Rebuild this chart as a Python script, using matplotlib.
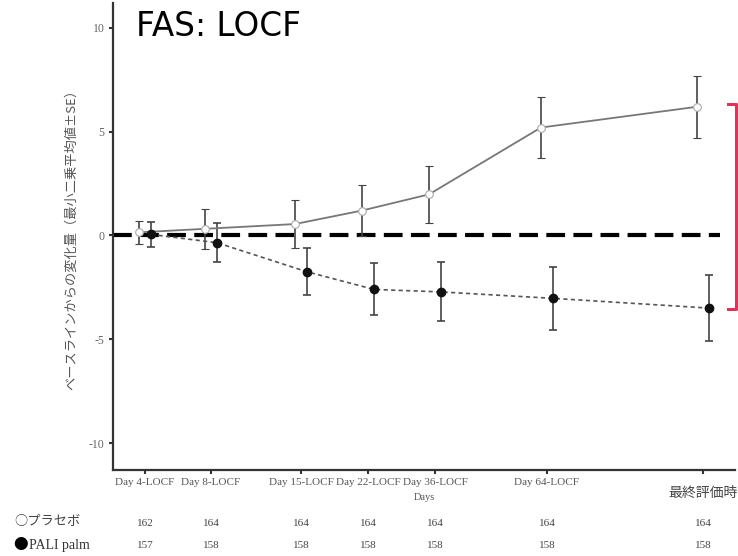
import matplotlib
matplotlib.use('Agg')
import matplotlib.pyplot as plt
from matplotlib.transforms import blended_transform_factory
from matplotlib.lines import Line2D

# data
labels = ['Day 4-LOCF', 'Day 8-LOCF', 'Day 15-LOCF', 'Day 22-LOCF', 'Day 36-LOCF', 'Day 64-LOCF', '最終評価時']
placebo_mean = [0.15, 0.32, 0.55, 1.2, 1.98, 5.2, 6.2]
placebo_se = [0.55, 0.95, 1.15, 1.22, 1.39, 1.45, 1.5]
pali_mean = [0.05, -0.35, -1.75, -2.6, -2.72, -3.03, -3.5]
pali_se = [0.62, 0.95, 1.13, 1.25, 1.42, 1.52, 1.6]
n_placebo = [162, 164, 164, 164, 164, 164, 164]
n_pali = [157, 158, 158, 158, 158, 158, 158]

# horizontal positions of the visits (uneven spacing, as in the original)
xpos = [145, 211, 301, 368, 435, 547, 703]
off = 6

serif = ['Liberation Serif', 'DejaVu Serif']
jp = ['Noto Sans CJK JP', 'DejaVu Sans']

fig = plt.figure(figsize=(7.38, 5.56), dpi=100)
ax = fig.add_axes([113/738, 1-470/556, (735-113)/738, (470-3)/556])

xp = [x - off for x in xpos]
xa = [x + off for x in xpos]

ax.errorbar(xp, placebo_mean, yerr=placebo_se, color='#777777', lw=1.3,
            ecolor='#444444', elinewidth=1.2, capsize=3, capthick=1.2,
            marker='o', ms=5.5, mfc='white', mec='#aaaaaa', mew=0.8, zorder=3)
ax.errorbar(xa, pali_mean, yerr=pali_se, color='#555555', lw=1.2, ls=(0, (2.5, 2)),
            ecolor='#444444', elinewidth=1.2, capsize=3, capthick=1.2,
            marker='o', ms=6, mfc='#111111', mec='#111111', zorder=3)

ax.plot([113, 720], [0, 0], color='black', lw=3, ls=(0, (4.5, 2)), zorder=2)

ax.set_xlim(113, 735)
ax.set_ylim(-11.3, 11.2)
ax.set_yticks([-10, -5, 0, 5, 10])
ax.set_yticklabels(['-10', '-5', '0', '5', '10'], family=serif, fontsize=8.5, color='#666666')
ax.set_xticks(xpos)
ax.set_xticklabels(labels[:-1] + [''], family=serif, fontsize=8, color='#555555')
ax.tick_params(axis='both', length=3, width=1.5, color='#333333', pad=3)
for s in ['top', 'right']:
    ax.spines[s].set_visible(False)
for s in ['left', 'bottom']:
    ax.spines[s].set_color('#333333')
    ax.spines[s].set_linewidth(1.6)

tr = blended_transform_factory(ax.transData, fig.transFigure)
ax.text(xpos[-1], 1-493/556, labels[-1], transform=tr, ha='center', va='center',
        family=jp, fontsize=10, color='#444444', clip_on=False)
ax.text(424, 1-498/556, 'Days', transform=tr, ha='center', va='center',
        family=serif, fontsize=7.5, color='#555555', clip_on=False)

ax.set_ylabel('ベースラインからの変化量（最小二乗平均値±SE）', family=jp, fontsize=9.5,
              color='#555555', labelpad=8)

fig.text(136/738, 1-36/556, 'FAS: LOCF', fontsize=23.5, family=['DejaVu Sans'],
         ha='left', va='baseline', color='black')

# numbers at risk
for x, n1, n2 in zip(xpos, n_placebo, n_pali):
    ax.text(x, 1-523/556, str(n1), transform=tr, ha='center', va='center',
            family=serif, fontsize=8, color='#444444', clip_on=False)
    ax.text(x, 1-545/556, str(n2), transform=tr, ha='center', va='center',
            family=serif, fontsize=8, color='#444444', clip_on=False)
fig.text(14/738, 1-522/556, '○プラセボ', family=jp, fontsize=9.5, color='#444444',
         ha='left', va='center')
fig.text(13/738, 1-545/556, '●', family=jp, fontsize=10.5, color='black',
         ha='left', va='center')
fig.text(29/738, 1-545/556, 'PALI palm', family=serif, fontsize=10, color='#333333',
         ha='left', va='center')

# red bracket on the right
bx = [728/738, 736/738, 736/738, 728/738]
by = [1-104/556, 1-104/556, 1-309/556, 1-309/556]
fig.add_artist(Line2D(bx, by, color='#e0325a', lw=2.2, transform=fig.transFigure))

fig.savefig('out.png', dpi=100)
